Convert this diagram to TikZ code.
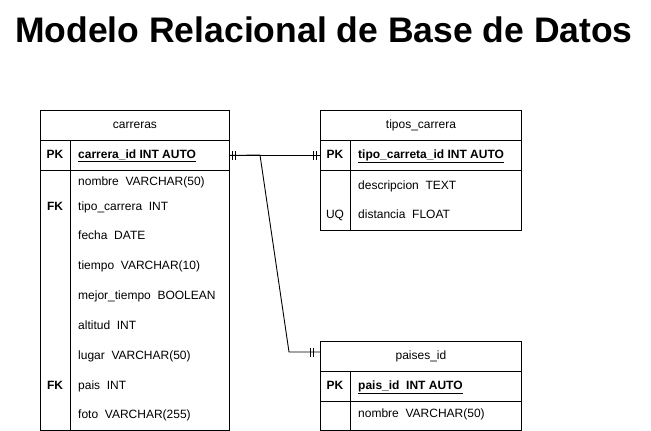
\documentclass[tikz,border=0pt]{standalone}
\usepackage{fontspec}
\setmainfont{Liberation Sans}
\usetikzlibrary{decorations.markings}
\newcommand{\fsz}{\fontsize{12}{14}\selectfont}
\tikzset{
  ln/.style={draw=black, line width=0.9pt},
  cell/.style={ln, rectangle, inner sep=0pt, anchor=north west, font=\fsz},
  txt/.style={anchor=base west, inner sep=0pt, font=\fsz},
  key/.style={anchor=base, inner sep=0pt, font=\fsz\bfseries},
  pktxt/.style={anchor=base west, inner sep=0pt, font=\fsz\bfseries},
  onebar/.style={draw=black, line width=0.9pt},
  mandboth/.style={ln, postaction={decorate, decoration={markings,
      mark=at position 3pt with {\draw[onebar] (0,-4.5pt) -- (0,4.5pt);},
      mark=at position 6pt with {\draw[onebar] (0,-4.5pt) -- (0,4.5pt);},
      mark=at position -4pt with {\draw[onebar] (0,-4.5pt) -- (0,4.5pt);},
      mark=at position -7pt with {\draw[onebar] (0,-4.5pt) -- (0,4.5pt);}}}},
  mandend/.style={ln, postaction={decorate, decoration={markings,
      mark=at position -7pt with {\draw[onebar] (0,-4.5pt) -- (0,4.5pt);},
      mark=at position -10pt with {\draw[onebar] (0,-4.5pt) -- (0,4.5pt);}}}}
}
\begin{document}
\begin{tikzpicture}[x=1pt, y=-1pt]
\useasboundingbox (0,0) rectangle (651,431);

\node[inner sep=0pt, font=\fontsize{35.5}{40}\selectfont\bfseries] (title) at (324,30) {Modelo Relacional de Base de Datos};

% ---------- carreras ----------
\node[cell, minimum width=189pt, minimum height=320pt] (carreras) at (40,110) {};
\node[cell, minimum width=189pt, minimum height=30pt] (carrerasH) at (40,110) {carreras};
\node[cell, minimum width=189pt, minimum height=30pt] (carrerasPK) at (40,140) {};
\draw[ln] (70,140) -- (70,430);
\node[key] (c0k) at (55,158.3) {PK};
\node[pktxt] (c0) at (78,158.3) {\underline{carrera\_id INT AUTO}};
\node[txt] (c1) at (78,185.3) {nombre\ \ VARCHAR(50)};
\node[key] (c2k) at (55,210.3) {FK};
\node[txt] (c2) at (78,210.3) {tipo\_carrera\ \ INT};
\node[txt] (c3) at (78,239.3) {fecha\ \ DATE};
\node[txt] (c4) at (78,269.3) {tiempo\ \ VARCHAR(10)};
\node[txt] (c5) at (78,299.3) {mejor\_tiempo\ \ BOOLEAN};
\node[txt] (c6) at (78,329.3) {altitud\ \ INT};
\node[txt] (c7) at (78,359) {lugar\ \ VARCHAR(50)};
\node[key] (c8k) at (55,389) {FK};
\node[txt] (c8) at (78,389) {pais\ \ INT};
\node[txt] (c9) at (78,418) {foto\ \ VARCHAR(255)};

% ---------- tipos_carrera ----------
\node[cell, minimum width=201pt, minimum height=120pt] (tipos) at (320,110) {};
\node[cell, minimum width=201pt, minimum height=30pt] (tiposH) at (320,110) {tipos\_carrera};
\node[cell, minimum width=201pt, minimum height=30pt] (tiposPK) at (320,140) {};
\draw[ln] (350,140) -- (350,230);
\node[key] (t0k) at (335,158.3) {PK};
\node[pktxt] (t0) at (358,158.3) {\underline{tipo\_carreta\_id INT AUTO}};
\node[txt] (t1) at (358,189.3) {descripcion\ \ TEXT};
\node[key, font=\fsz] (t2k) at (335,218) {UQ};
\node[txt] (t2) at (358,218) {distancia\ \ FLOAT};

% ---------- paises_id ----------
\node[cell, minimum width=201pt, minimum height=89pt] (paises) at (320,341) {};
\node[cell, minimum width=201pt, minimum height=30pt] (paisesH) at (320,341) {paises\_id};
\node[cell, minimum width=201pt, minimum height=30pt] (paisesPK) at (320,371) {};
\draw[ln] (350,371) -- (350,430);
\node[key] (p0k) at (335,389.3) {PK};
\node[pktxt] (p0) at (358,389.3) {\underline{pais\_id\ \ INT AUTO}};
\node[txt] (p1) at (358,417.3) {nombre\ \ VARCHAR(50)};

% ---------- connectors ----------
\draw[mandboth] (carrerasPK.east) -- (tiposPK.west);
\coordinate (bendA) at (260,155);
\coordinate (bendB) at (289,352);
\draw[mandend] (carrerasPK.east) -- (bendA) -- (bendB) -- (bendB -| paisesH.west);
\end{tikzpicture}
\end{document}
